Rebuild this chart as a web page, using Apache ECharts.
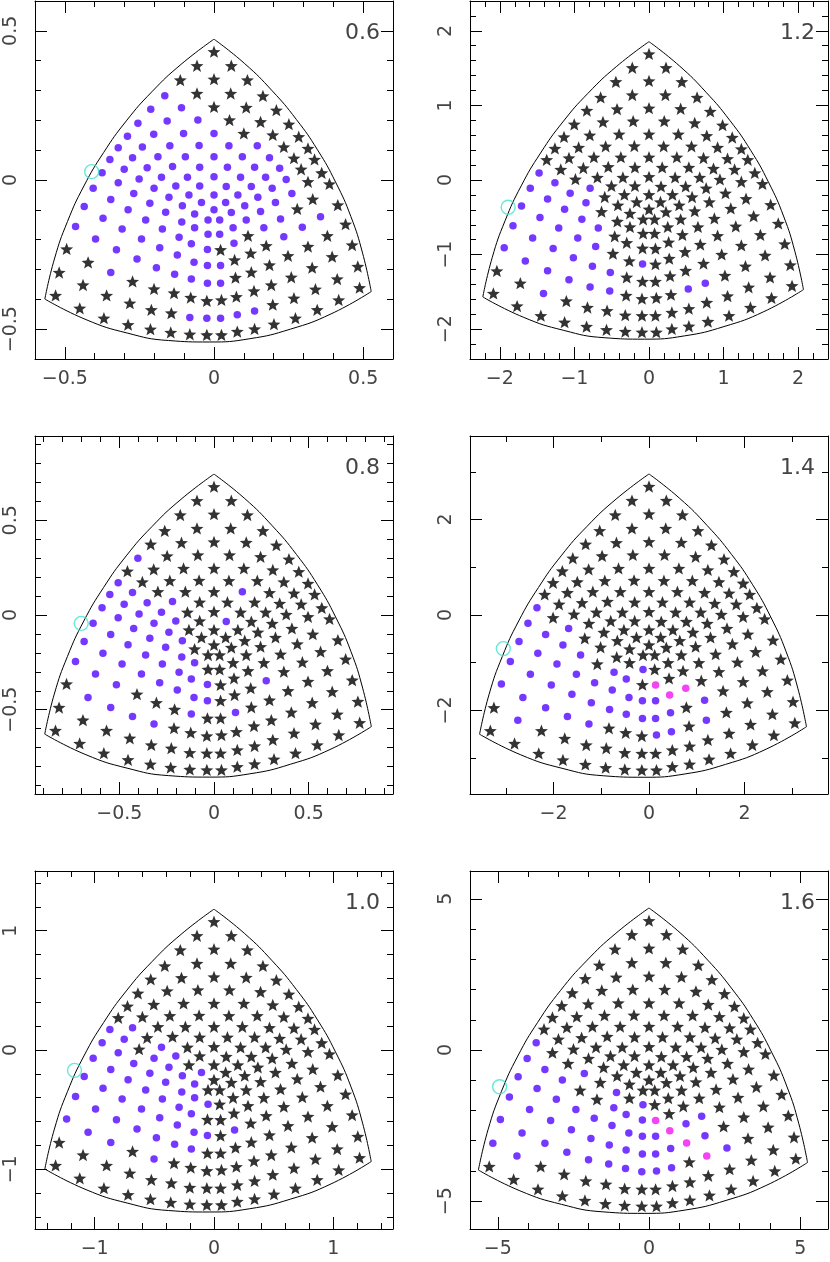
<!DOCTYPE html>
<html><head><meta charset="utf-8">
<script src="https://cdn.jsdelivr.net/npm/echarts@6/dist/echarts.min.js"></script>
<style>html,body{margin:0;padding:0;background:#fff}#c{width:830px;height:1262px}</style>
</head><body><div id="c"></div>
<script>
// ---- grid of sample points, read in the data units of the 0.6 panel ----
const topRowX = [
0,
-0.057,0.058,
-0.113,0,0.112,
-0.165,-0.057,0.056,0.164,
-0.212,-0.109,0,0.108,0.209,
-0.255,-0.157,-0.054,0.052,0.156,0.251,
-0.290,-0.202,-0.102,0,0.100,0.197,0.284,
-0.321,-0.240,-0.148,-0.050,0.050,0.145,0.234,0.315,
-0.349,-0.273,-0.188,-0.096,0,0.095,0.186,0.268,0.337,
-0.375,-0.301,-0.224,-0.139,-0.048,0.045,0.136,0.220,0.292,0.361,
-0.405,-0.321,-0.251,-0.176,-0.089,0,0.089,0.173,0.242,0.315,0.387];
const topRowY = [
0.430,
0.383,0.383,
0.335,0.338,0.335,
0.282,0.290,0.290,0.282,
0.237,0.242,0.245,0.243,0.234,
0.190,0.198,0.201,0.201,0.195,0.187,
0.147,0.153,0.156,0.156,0.156,0.151,0.145,
0.108,0.111,0.115,0.116,0.115,0.115,0.111,0.106,
0.069,0.075,0.078,0.078,0.078,0.078,0.075,0.073,0.069,
0.024,0.036,0.041,0.045,0.043,0.043,0.043,0.039,0.036,0.024,
-0.028,-0.009,0.003,0.009,0.009,0.011,0.009,0.009,0.002,-0.006,-0.013];
const lowerLeftX = [-0.269,-0.201,-0.128,-0.048,-0.346,-0.151,-0.084,-0.042,-0.435,-0.215,
-0.106,-0.288,-0.162,-0.065,-0.372,-0.229,-0.020,-0.464,-0.308,-0.108,
-0.173,-0.065,-0.020,-0.397,-0.243,-0.117,-0.327,-0.182,-0.076,-0.022,
-0.494,-0.258,-0.123,-0.067,-0.022,-0.422,-0.346,-0.193,-0.132,-0.076,
-0.022,-0.519,-0.273,-0.439,-0.201,-0.134,-0.078,-0.024,-0.360,-0.531,
-0.282,-0.450,-0.210,-0.143,-0.081,-0.024,-0.369,-0.288,-0.213,-0.145,
-0.081,-0.024];
const lowerLeftY = [-0.045,-0.028,-0.020,-0.020,-0.065,-0.058,-0.050,-0.075,-0.089,-0.078,
-0.086,-0.100,-0.108,-0.114,-0.128,-0.134,-0.134,-0.156,-0.164,-0.141,
-0.164,-0.160,-0.182,-0.198,-0.198,-0.192,-0.234,-0.227,-0.214,-0.233,
-0.231,-0.265,-0.251,-0.276,-0.287,-0.276,-0.310,-0.294,-0.316,-0.332,
-0.346,-0.310,-0.340,-0.352,-0.365,-0.379,-0.394,-0.405,-0.387,-0.387,
-0.413,-0.430,-0.435,-0.446,-0.461,-0.463,-0.463,-0.485,-0.500,-0.511,
-0.517,-0.519];
const centerX = [0, 0];
const centerY = [-0.050, -0.100];
const lowerRightX = [0.261,0.195,0.125,0.041,0.331,0.147,0.080,0.039,0.415,0.206,
0.103,0.279,0.156,0.058,0.357,0.223,0.019,0.441,0.296,0.108,
0.167,0.064,0.019,0.380,0.234,0.114,0.315,0.175,0.067,0.022,
0.463,0.248,0.123,0.069,0.022,0.396,0.329,0.186,0.125,0.072,
0.022,0.482,0.259,0.413,0.192,0.134,0.075,0.025,0.340,0.488,
0.268,0.418,0.197,0.136,0.078,0.022,0.346,0.273,0.201,0.136,
0.078,0.025];
const lowerRightY = [-0.045,-0.028,-0.022,-0.022,-0.064,-0.058,-0.050,-0.075,-0.084,-0.075,
-0.086,-0.097,-0.106,-0.109,-0.123,-0.131,-0.134,-0.148,-0.158,-0.134,
-0.160,-0.160,-0.182,-0.187,-0.190,-0.187,-0.223,-0.220,-0.212,-0.234,
-0.218,-0.254,-0.245,-0.268,-0.287,-0.257,-0.294,-0.285,-0.309,-0.327,
-0.346,-0.290,-0.326,-0.332,-0.352,-0.372,-0.391,-0.402,-0.366,-0.361,
-0.396,-0.402,-0.418,-0.439,-0.452,-0.463,-0.435,-0.463,-0.483,-0.499,
-0.508,-0.519];

// ---- boundary of the curved triangle (0.6-panel units) ----
const leftEdgeX   = [0,-0.110,-0.208,-0.294,-0.370,-0.436,-0.491,-0.535,-0.567];
const leftEdgeY   = [0.472,0.388,0.296,0.198,0.092,-0.020,-0.139,-0.265,-0.399];
const bottomEdgeX = [-0.567,-0.429,-0.291,-0.153,-0.016,0.120,0.256,0.392,0.527];
const bottomEdgeY = [-0.399,-0.468,-0.513,-0.538,-0.543,-0.532,-0.500,-0.449,-0.374];
const rightEdgeX  = [0.527,0.498,0.459,0.408,0.347,0.276,0.195,0.103,0];
const rightEdgeY  = [-0.374,-0.245,-0.123,-0.008,0.101,0.203,0.299,0.390,0.472];

// ---- panels ----
const panelLabels = ['0.6','0.8','1.0','1.2','1.4','1.6'];
const panelScale  = [1, 1.576, 2.50, 3.93, 6.26, 9.95];
const panelRange  = [0.6, 0.945, 1.5, 2.4, 3.75, 5.92];
const majorTicks = [[-0.5,0,0.5],[-0.5,0,0.5],[-1,0,1],[-2,-1,0,1,2],[-2,0,2],[-5,0,5]];
const minorTicks = [
 [-0.4,-0.3,-0.2,-0.1,0.1,0.2,0.3,0.4],
 [-0.9,-0.8,-0.7,-0.6,-0.4,-0.3,-0.2,-0.1,0.1,0.2,0.3,0.4,0.6,0.7,0.8,0.9],
 [-1.4,-1.2,-0.8,-0.6,-0.4,-0.2,0.2,0.4,0.6,0.8,1.2,1.4],
 [-2.2,-1.8,-1.6,-1.4,-1.2,-0.8,-0.6,-0.4,-0.2,0.2,0.4,0.6,0.8,1.2,1.4,1.6,1.8,2.2],
 [-3,-1,1,3],
 [-4,-3,-2,-1,1,2,3,4]];
const purpleIds = [
 ['T6','T10-11','T15-17','T21-24','T28-33','T36-42','T45-52','T55-63','L1-30','L32-35','L37-41','L55-56','C1-2','R1-4','R6-8','R10-11','R13-17','R19-23','R25','R29','R35','R41','R54-56'],
 ['T15','T28','T36-37','T41','T45-48','T55-58','L1-3','L5-6','L9-13','L15-16','L18-22','L24-30','L33-37','L40','L43','L45','R4','R28','R40'],
 ['T36-37','T45-46','T55-56','T58','L1-3','L5-6','L8-16','L18-29','L31-40','L45','R34'],
 ['T45','T55-56','L1-2','L5','L9-10','L12','L15-16','L18-19','L21','L24-25','L27-28','L31-32','L35-39','L43','L45-46','L49','R45-46'],
 ['T45','T55','L1','L5','L9','L12','L15-16','L18-19','L23-29','L31-41','L43-45','R35','R38','R40-41','R45','R47-48'],
 ['T45','T55','L5','L9-10','L12','L15','L18-20','L23-48','R28','R33','R35','R38','R40-41','R43','R47-48']];
const magentaIds = [[],[],[],[],['R30','R33-34'],['R30','R34','R39','R45']];
const cyanX = [-0.410,-0.701,-1.169,-1.888,-3.052,-4.94];
const cyanY = [0.028,-0.044,-0.171,-0.366,-0.704,-1.217];

// ---- layout ----
const panelCol = [0,0,0,1,1,1];
const panelRow = [0,1,2,0,1,2];
const gridLefts = [35, 470];
const gridTops = [1, 436, 871];
const frame = 358;

const STAR = 'path://M50,0L62.64,32.61L97.55,34.55L70.45,56.64L79.39,90.45L50,71.5L20.61,90.45L29.55,56.64L2.45,34.55L37.36,32.61Z';
const FONT = 'DejaVu Sans';

function expand(list){
  const out=[];
  list.forEach(s=>{const m=s.match(/^([A-Z])(\d+)(?:-(\d+))?$/);const a=+m[2],b=m[3]?+m[3]:a;for(let k=a;k<=b;k++)out.push(m[1]+k);});
  return out;
}
const pts = {};
topRowX.forEach((x,i)=>pts['T'+i]=[x,topRowY[i]]);
lowerLeftX.forEach((x,i)=>pts['L'+(i+1)]=[x,lowerLeftY[i]]);
centerX.forEach((x,i)=>pts['C'+(i+1)]=[x,centerY[i]]);
lowerRightX.forEach((x,i)=>pts['R'+(i+1)]=[x,lowerRightY[i]]);
const allIds = Object.keys(pts);

const fmt = v => String(+v.toFixed(3)).replace('-', '\u2212');

const grids=[], xAxes=[], yAxes=[], series=[], graphics=[];
panelLabels.forEach((lab,p)=>{
  const r = panelRange[p], s = panelScale[p];
  const left = gridLefts[panelCol[p]], top = gridTops[panelRow[p]];
  grids.push({left:left, top:top, width:frame, height:frame});
  const lineStyle = {color:'#000', width:1};
  const mk = (pos, ticks, len, withLine, withLabel, isY) => ({
    type:'value', gridIndex:p, position:pos, min:-r, max:r,
    axisLine:{show:withLine, onZero:false, lineStyle},
    axisTick:{show:true, inside:true, length:len, customValues:ticks, lineStyle:{color:'#000', width:1}},
    axisLabel:{show:withLabel, customValues:ticks, formatter:fmt, fontFamily:FONT, fontSize:19, color:'#444',
               margin: isY ? 14 : 11, rotate: isY ? 90 : 0},
    splitLine:{show:false}, minorTick:{show:false}
  });
  xAxes.push(mk('bottom', majorTicks[p], 12, true, true, false));
  xAxes.push(mk('bottom', minorTicks[p], 6, false, false, false));
  xAxes.push(mk('top', majorTicks[p], 12, true, false, false));
  xAxes.push(mk('top', minorTicks[p], 6, false, false, false));
  yAxes.push(mk('left', majorTicks[p], 12, true, true, true));
  yAxes.push(mk('left', minorTicks[p], 6, false, false, true));
  yAxes.push(mk('right', majorTicks[p], 12, true, false, true));
  yAxes.push(mk('right', minorTicks[p], 6, false, false, true));
  const xi = 4*p, yi = 4*p;
  const edge = (ex,ey)=>({type:'line', xAxisIndex:xi, yAxisIndex:yi, smooth:true, symbol:'none', silent:true,
      lineStyle:{color:'#000', width:1}, data: ex.map((x,i)=>[x*s, ey[i]*s]), z:1});
  series.push(edge(leftEdgeX,leftEdgeY), edge(bottomEdgeX,bottomEdgeY), edge(rightEdgeX,rightEdgeY));
  const purple = new Set(expand(purpleIds[p]));
  const magenta = new Set(expand(magentaIds[p]));
  const toData = ids => ids.map(id=>[pts[id][0]*s, pts[id][1]*s]);
  const starIds = allIds.filter(id=>!purple.has(id) && !magenta.has(id));
  series.push({type:'scatter', xAxisIndex:xi, yAxisIndex:yi, symbol:STAR, symbolSize:[13,12.3],
    itemStyle:{color:'#000'}, data:toData(starIds), z:3, silent:true});
  series.push({type:'scatter', xAxisIndex:xi, yAxisIndex:yi, symbol:'circle', symbolSize:7.5,
    itemStyle:{color:'#5206ff'}, data:toData([...purple]), z:3, silent:true});
  series.push({type:'scatter', xAxisIndex:xi, yAxisIndex:yi, symbol:'circle', symbolSize:7.5,
    itemStyle:{color:'#f014f0'}, data:toData([...magenta]), z:3, silent:true});
  series.push({type:'scatter', xAxisIndex:xi, yAxisIndex:yi, symbol:'circle', symbolSize:14,
    itemStyle:{color:'rgba(0,0,0,0)', borderColor:'#3fe3cf', borderWidth:1.4},
    data:[[cyanX[p], cyanY[p]]], z:4, silent:true});
  graphics.push({type:'text', right: 830 - (left + frame - 13), top: top + 21,
    style:{text:lab, font:'22px "DejaVu Sans"', fill:'#444', textAlign:'right'}});
});

const chart = echarts.init(document.getElementById('c'), null, {renderer:'canvas'});
chart.setOption({animation:false, backgroundColor:'#fff', grid:grids, xAxis:xAxes, yAxis:yAxes, series:series, graphic:graphics});
</script></body></html>
